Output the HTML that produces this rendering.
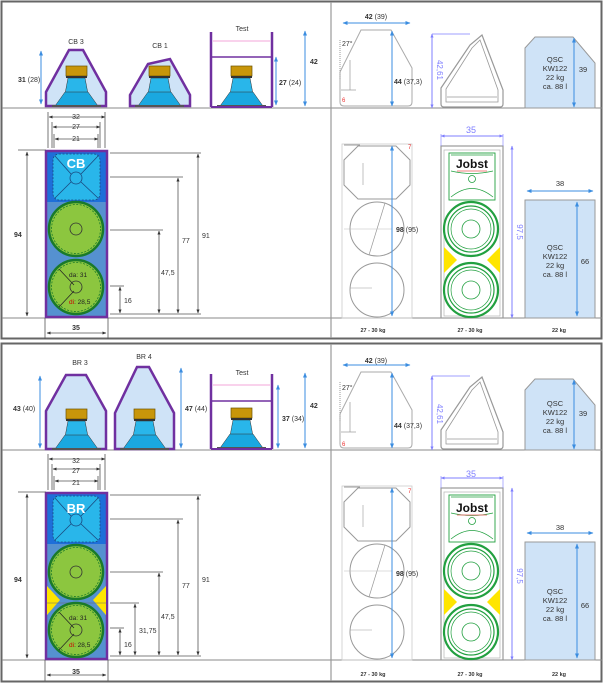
<!DOCTYPE html>
<html><head><meta charset="utf-8"><style>
html,body{margin:0;padding:0;background:#fff}
svg{display:block}
text{font-family:"Liberation Sans",sans-serif}
</style></head><body>
<svg width="604" height="684" viewBox="0 0 604 684" xmlns="http://www.w3.org/2000/svg">
<defs>
<marker id="a" viewBox="0 0 10 10" refX="9" refY="5" markerWidth="5" markerHeight="5" orient="auto-start-reverse"><path d="M0,1 L10,5 L0,9 z" fill="#333"/></marker>
<marker id="b" viewBox="0 0 10 10" refX="9" refY="5" markerWidth="5" markerHeight="5" orient="auto-start-reverse"><path d="M0,1 L10,5 L0,9 z" fill="#3b8de0"/></marker>
<marker id="p" viewBox="0 0 10 10" refX="9" refY="5" markerWidth="4" markerHeight="4" orient="auto-start-reverse"><path d="M0,1 L10,5 L0,9 z" fill="#7f7fff"/></marker>
<g id="drv">
<rect x="-10" y="0" width="21" height="10" fill="#c8960a" stroke="#6b5200" stroke-width="0.7"/>
<rect x="-10" y="10" width="21" height="2" fill="#333"/>
<path d="M-8,12 L9,12 L12,28 L-11,28 z" fill="#29b6ea" stroke="#333" stroke-width="0.5"/>
<path d="M-11,26 L12,26 L22,40 L-21,40 z" fill="#1aa8e0" stroke="#333" stroke-width="0.5"/>
<rect x="-24" y="39" width="49" height="2" fill="#555"/>
</g>
<g id="woof">
<circle r="27" fill="#8cc63f" stroke="#1a7a2a" stroke-width="2.5"/>
<circle r="24.5" fill="none" stroke="#1a7a2a" stroke-width="0.8" stroke-dasharray="2 1.5"/>
<circle r="6" fill="none" stroke="#333" stroke-width="0.8"/>
</g>
<g id="jw">
<circle r="27" fill="#fff" stroke="#22a040" stroke-width="2.2"/>
<circle r="23" fill="none" stroke="#22a040" stroke-width="1.2"/>
<circle r="20" fill="none" stroke="#22a040" stroke-width="0.7"/>
<circle r="9" fill="none" stroke="#22a040" stroke-width="0.8"/>
</g>
<g id="R">
<!-- top left outline -->
<path d="M361,30 L391,30 L412,68 L412,102 Q412,106 408,106 L344,106 Q340,106 340,102 L340,72 z" fill="none" stroke="#aaa" stroke-width="1"/>
<line x1="340" y1="40" x2="340" y2="80" stroke="#999" stroke-dasharray="1 1"/>
<line x1="341" y1="90" x2="356" y2="90" stroke="#999" stroke-width="0.7"/>
<line x1="350" y1="60" x2="350" y2="90" stroke="#999" stroke-width="0.7"/>
<line x1="343" y1="23" x2="410" y2="23" stroke="#3b8de0" marker-start="url(#b)" marker-end="url(#b)"/>
<line x1="392" y1="31" x2="392" y2="106" stroke="#3b8de0" marker-start="url(#b)" marker-end="url(#b)"/>
<!-- top middle -->
<path d="M441,88 L470,45 L482,35 L503,90 L503,104 Q503,107 500,107 L444,107 Q441,107 441,104 z" fill="none" stroke="#999" stroke-width="1.2"/>
<path d="M446,89 L472,48 L480,40 L498,90 L498,102 L446,102 z" fill="none" stroke="#999" stroke-width="0.8"/>
<line x1="447" y1="97" x2="497" y2="97" stroke="#999" stroke-width="0.8"/>
<line x1="432" y1="34" x2="432" y2="108" stroke="#7f7fff" marker-start="url(#p)" marker-end="url(#p)"/>
<line x1="432" y1="34" x2="470" y2="34" stroke="#7f7fff" stroke-width="0.7"/>
<!-- QSC top -->
<path d="M525,48 L535,37 L573,37 L595,63 L595,108 L525,108 z" fill="#cfe3f7" stroke="#999"/>
<line x1="574" y1="38" x2="574" y2="107" stroke="#3b8de0" marker-start="url(#b)" marker-end="url(#b)"/>
<!-- bottom left outline -->
<rect x="342" y="144" width="70" height="174" fill="none" stroke="#ccc" stroke-width="0.8"/>
<path d="M358,146 L396,146 L410,160 L410,185 L396,199 L358,199 L344,185 L344,160 z" fill="none" stroke="#999"/>
<line x1="344" y1="145" x2="360" y2="145" stroke="#999"/>
<line x1="363" y1="163" x2="363" y2="185" stroke="#999" stroke-width="0.6"/>
<circle cx="377" cy="229" r="27" fill="none" stroke="#999"/>
<circle cx="377" cy="290" r="27" fill="none" stroke="#999"/>
<line x1="385" y1="203" x2="369" y2="255" stroke="#999" stroke-width="0.7"/>
<line x1="344" y1="229" x2="392" y2="229" stroke="#bbb" stroke-width="0.5"/>
<line x1="350" y1="288" x2="372" y2="288" stroke="#999" stroke-width="0.6"/>
<line x1="392" y1="146" x2="392" y2="316" stroke="#3b8de0" marker-start="url(#b)" marker-end="url(#b)"/>
<!-- Jobst -->
<rect x="441" y="146" width="62" height="172" fill="#fff" stroke="#999" stroke-width="1.2"/>
<rect x="444" y="150" width="56" height="166" fill="none" stroke="#bbb" stroke-width="0.8"/>
<rect x="449" y="153" width="46" height="47" fill="none" stroke="#22a040" stroke-width="0.9"/>
<path d="M451,171 Q472,176 493,171 M451,197 Q472,180 493,197 M451,155 L493,155" fill="none" stroke="#22a040" stroke-width="0.8"/>
<circle cx="472" cy="179" r="3.5" fill="none" stroke="#22a040" stroke-width="0.8"/>
<path d="M444,247 L457,260 L444,273 z M500,247 L487,260 L500,273 z" fill="#ffe500"/>
<use href="#jw" x="471" y="229"/>
<use href="#jw" x="471" y="290"/>
<line x1="441" y1="136" x2="503" y2="136" stroke="#7f7fff" marker-start="url(#p)" marker-end="url(#p)"/>
<line x1="441" y1="134" x2="441" y2="146" stroke="#7f7fff" stroke-width="0.6"/>
<line x1="503" y1="134" x2="503" y2="146" stroke="#7f7fff" stroke-width="0.6"/>
<line x1="512" y1="146" x2="512" y2="318" stroke="#7f7fff" marker-start="url(#p)" marker-end="url(#p)"/>
<!-- QSC bottom -->
<rect x="525" y="200" width="70" height="118" fill="#cfe3f7" stroke="#999"/>
<line x1="527" y1="191" x2="593" y2="191" stroke="#3b8de0" marker-start="url(#b)" marker-end="url(#b)"/>
<line x1="577" y1="202" x2="577" y2="316" stroke="#3b8de0" marker-start="url(#b)" marker-end="url(#b)"/>
</g>
<g id="LB">
<!-- Test enclosure -->
<line x1="211" y1="32" x2="211" y2="107" stroke="#7030a0" stroke-width="2.5"/>
<line x1="272" y1="32" x2="272" y2="107" stroke="#7030a0" stroke-width="2.5"/>
<use href="#drv" x="241" y="66"/>
<line x1="211" y1="107" x2="272" y2="107" stroke="#7030a0" stroke-width="2"/>
<line x1="305" y1="31" x2="305" y2="106" stroke="#3b8de0" marker-start="url(#b)" marker-end="url(#b)"/>
<!-- front box -->
<rect x="46" y="151" width="61" height="166" fill="#5591d0"/>
<rect x="46" y="151" width="61" height="51" fill="#1e6fd9"/>
<rect x="53" y="154" width="47" height="46" rx="6" fill="#29b6ea" stroke="#1a4a80" stroke-width="0.8" stroke-dasharray="2 1.5"/>
<path d="M55,156 L71,174 M98,156 L81,174 M55,198 L71,182 M98,198 L81,182" stroke="#1a4a80" stroke-width="0.8"/>
<circle cx="76" cy="178" r="6" fill="#29b6ea" stroke="#1a4a80" stroke-width="0.8"/>
<rect x="46" y="151" width="61" height="166" fill="none" stroke="#7030a0" stroke-width="2.5"/>
<g stroke="#555" stroke-width="0.8" fill="none">
<line x1="49" y1="117" x2="105" y2="117" marker-start="url(#a)" marker-end="url(#a)"/>
<line x1="53" y1="127" x2="100" y2="127" marker-start="url(#a)" marker-end="url(#a)"/>
<line x1="55" y1="139" x2="98" y2="139" marker-start="url(#a)" marker-end="url(#a)"/>
<line x1="48" y1="112" x2="48" y2="148"/><line x1="105" y1="112" x2="105" y2="148"/>
<line x1="52" y1="122" x2="52" y2="148"/><line x1="100" y1="122" x2="100" y2="148"/>
<line x1="54" y1="134" x2="54" y2="148"/><line x1="98" y1="134" x2="98" y2="148"/>
<line x1="18" y1="150" x2="46" y2="150"/>
<line x1="27" y1="152" x2="27" y2="316" marker-start="url(#a)" marker-end="url(#a)"/>
<line x1="110" y1="153" x2="201" y2="153"/><line x1="198" y1="154" x2="198" y2="313" marker-start="url(#a)" marker-end="url(#a)"/>
<line x1="110" y1="177" x2="183" y2="177"/><line x1="178" y1="178" x2="178" y2="313" marker-start="url(#a)" marker-end="url(#a)"/>
<line x1="110" y1="230" x2="163" y2="230"/><line x1="159" y1="231" x2="159" y2="313" marker-start="url(#a)" marker-end="url(#a)"/>
<line x1="110" y1="286" x2="124" y2="286"/><line x1="120" y1="287" x2="120" y2="313" marker-start="url(#a)" marker-end="url(#a)"/>
<line x1="110" y1="314" x2="201" y2="314"/>
<line x1="45" y1="318" x2="45" y2="339"/><line x1="108" y1="318" x2="108" y2="339"/>
<line x1="47" y1="333" x2="106" y2="333" marker-start="url(#a)" marker-end="url(#a)"/>
</g>
</g>
</defs>

<!-- frames -->
<rect x="1.5" y="1.5" width="600" height="337" fill="none" stroke="#666" stroke-width="2"/>
<rect x="1.5" y="343.5" width="600" height="338" fill="none" stroke="#666" stroke-width="2"/>

<!-- ===== TOP PANEL ===== -->
<g>
<line x1="2" y1="108" x2="602" y2="108" stroke="#888"/>
<line x1="2" y1="318" x2="602" y2="318" stroke="#888"/>
<line x1="331" y1="2" x2="331" y2="338" stroke="#999" stroke-width="1.2"/>
<!-- CB3 -->
<path d="M46,92 L69,50 L83,50 L106,92 L106,106 L46,106 z" fill="#cfe3f7" stroke="#7030a0" stroke-width="2.5"/>
<use href="#drv" x="76" y="66"/>
<text x="76" y="44" font-size="7" text-anchor="middle" fill="#333">CB 3</text>
<line x1="41" y1="51" x2="41" y2="104" stroke="#3b8de0" marker-start="url(#b)" marker-end="url(#b)"/>
<text x="18" y="82" font-size="7" fill="#333"><tspan font-weight="bold">31</tspan> (28)</text>
<!-- CB1 -->
<path d="M130,95 L148,64 L170,59 L190,95 L190,106 L130,106 z" fill="#cfe3f7" stroke="#7030a0" stroke-width="2.5"/>
<use href="#drv" x="159" y="66"/>
<text x="160" y="48" font-size="7" text-anchor="middle" fill="#333">CB 1</text>
<!-- Test -->
<line x1="213" y1="41" x2="270" y2="41" stroke="#f5b8e0" stroke-width="1.2"/>
<line x1="211" y1="57" x2="272" y2="57" stroke="#7030a0" stroke-width="1.5"/>
<use href="#LB"/>
<text x="242" y="31" font-size="7" text-anchor="middle" fill="#333">Test</text>
<line x1="276" y1="57" x2="276" y2="105" stroke="#3b8de0" marker-start="url(#b)" marker-end="url(#b)"/>
<text x="279" y="85" font-size="7" fill="#333"><tspan font-weight="bold">27</tspan> (24)</text>
<text x="310" y="64" font-size="7" font-weight="bold" fill="#333">42</text>
<!-- front texts -->
<text x="76" y="168" font-size="13" font-weight="bold" text-anchor="middle" fill="#fff">CB</text>
<use href="#woof" x="76" y="229"/>
<use href="#woof" x="76" y="287"/>
<line x1="59" y1="269" x2="74" y2="285" stroke="#222" stroke-width="0.7"/>
<line x1="59" y1="307" x2="74" y2="291" stroke="#222" stroke-width="0.7"/>
<text x="69" y="277" font-size="6.5" fill="#222">da: 31</text>
<text x="69" y="304" font-size="6.5" fill="#222"><tspan fill="#c00">di</tspan>: 28,5</text>
<g font-size="7" fill="#333">
<text x="76" y="119" text-anchor="middle">32</text>
<text x="76" y="129" text-anchor="middle">27</text>
<text x="76" y="141" text-anchor="middle">21</text>
<text x="14" y="237" font-weight="bold">94</text>
<text x="202" y="238">91</text>
<text x="182" y="243">77</text>
<text x="161" y="275">47,5</text>
<text x="124" y="303">16</text>
<text x="76" y="330" text-anchor="middle" font-weight="bold">35</text>
</g>
<!-- right -->
<use href="#R"/>
<g font-size="7" fill="#333">
<text x="376" y="19" text-anchor="middle"><tspan font-weight="bold">42</tspan> (39)</text>
<text x="342" y="46">27°</text>
<text x="394" y="84"><tspan font-weight="bold">44</tspan> (37,3)</text>
<text x="342" y="102" fill="#e33" font-size="6">6</text>
<text transform="translate(437,70) rotate(90)" text-anchor="middle" fill="#7f7fff" font-size="8">42,61</text>
<text x="555" y="62" text-anchor="middle" font-size="7.5">QSC</text>
<text x="555" y="71" text-anchor="middle" font-size="7.5">KW122</text>
<text x="555" y="80" text-anchor="middle" font-size="7.5">22 kg</text>
<text x="555" y="89" text-anchor="middle" font-size="7.5">ca. 88 l</text>
<text x="583" y="72" text-anchor="middle" font-size="7.5">39</text>
<text x="408" y="149" fill="#e33" font-size="6">7</text>
<text x="396" y="232"><tspan font-weight="bold">98</tspan> (95)</text>
<text x="471" y="133" text-anchor="middle" fill="#7f7fff" font-size="9">35</text>
<text transform="translate(517,232) rotate(90)" text-anchor="middle" fill="#7f7fff" font-size="8">97,5</text>
<text x="472" y="168" text-anchor="middle" font-size="12" font-weight="bold" fill="#111">Jobst</text>
<line x1="457" y1="171" x2="487" y2="171" stroke="#e55" stroke-width="0.8"/>
<text x="560" y="186" text-anchor="middle" font-size="7.5">38</text>
<text x="555" y="250" text-anchor="middle" font-size="7.5">QSC</text>
<text x="555" y="259" text-anchor="middle" font-size="7.5">KW122</text>
<text x="555" y="268" text-anchor="middle" font-size="7.5">22 kg</text>
<text x="555" y="277" text-anchor="middle" font-size="7.5">ca. 88 l</text>
<text x="585" y="264" text-anchor="middle" font-size="7.5">66</text>
<text x="373" y="332" text-anchor="middle" font-size="5.5" font-weight="bold">27 - 30 kg</text>
<text x="470" y="332" text-anchor="middle" font-size="5.5" font-weight="bold">27 - 30 kg</text>
<text x="559" y="332" text-anchor="middle" font-size="5.5" font-weight="bold">22 kg</text>
</g>
</g>

<!-- ===== BOTTOM PANEL ===== -->
<g transform="translate(0,342)">
<line x1="2" y1="108" x2="602" y2="108" stroke="#888"/>
<line x1="2" y1="318" x2="602" y2="318" stroke="#888"/>
<line x1="331" y1="2" x2="331" y2="339" stroke="#999" stroke-width="1.2"/>
<!-- BR3 -->
<path d="M46,69 L66,33 L86,33 L106,69 L106,107 L46,107 z" fill="#cfe3f7" stroke="#7030a0" stroke-width="2.5"/>
<use href="#drv" x="76" y="67"/>
<text x="80" y="23" font-size="7" text-anchor="middle" fill="#333">BR 3</text>
<line x1="40" y1="34" x2="40" y2="106" stroke="#3b8de0" marker-start="url(#b)" marker-end="url(#b)"/>
<text x="13" y="69" font-size="7" fill="#333"><tspan font-weight="bold">43</tspan> (40)</text>
<!-- BR4 -->
<path d="M115,71 L137,25 L149,25 L174,71 L174,107 L115,107 z" fill="#cfe3f7" stroke="#7030a0" stroke-width="2.5"/>
<use href="#drv" x="144" y="67"/>
<text x="144" y="17" font-size="7" text-anchor="middle" fill="#333">BR 4</text>
<line x1="181" y1="26" x2="181" y2="106" stroke="#3b8de0" marker-start="url(#b)" marker-end="url(#b)"/>
<text x="185" y="69" font-size="7" fill="#333"><tspan font-weight="bold">47</tspan> (44)</text>
<!-- Test -->
<line x1="213" y1="43" x2="270" y2="43" stroke="#f5b8e0" stroke-width="1.2"/>
<line x1="211" y1="59" x2="272" y2="59" stroke="#7030a0" stroke-width="1.5"/>
<use href="#LB"/>
<text x="242" y="33" font-size="7" text-anchor="middle" fill="#333">Test</text>
<line x1="278" y1="43" x2="278" y2="106" stroke="#3b8de0" marker-start="url(#b)" marker-end="url(#b)"/>
<text x="282" y="79" font-size="7" fill="#333"><tspan font-weight="bold">37</tspan> (34)</text>
<text x="310" y="66" font-size="7" font-weight="bold" fill="#333">42</text>
<!-- front -->
<path d="M47,244 L60,258 L47,273 z M106,244 L93,258 L106,273 z" fill="#ffe500"/>
<line x1="47" y1="261" x2="106" y2="261" stroke="#666" stroke-width="0.5"/>
<text x="76" y="171" font-size="13" font-weight="bold" text-anchor="middle" fill="#fff">BR</text>
<use href="#woof" x="76" y="230"/>
<use href="#woof" x="76" y="288"/>
<line x1="59" y1="270" x2="74" y2="286" stroke="#222" stroke-width="0.7"/>
<line x1="59" y1="308" x2="74" y2="292" stroke="#222" stroke-width="0.7"/>
<text x="69" y="278" font-size="6.5" fill="#222">da: 31</text>
<text x="69" y="305" font-size="6.5" fill="#222"><tspan fill="#c00">di</tspan>: 28,5</text>
<g stroke="#555" stroke-width="0.8"><line x1="110" y1="261" x2="139" y2="261"/><line x1="135" y1="262" x2="135" y2="313" marker-start="url(#a)" marker-end="url(#a)"/></g>
<g font-size="7" fill="#333">
<text x="76" y="121" text-anchor="middle">32</text>
<text x="76" y="131" text-anchor="middle">27</text>
<text x="76" y="143" text-anchor="middle">21</text>
<text x="14" y="240" font-weight="bold">94</text>
<text x="202" y="240">91</text>
<text x="182" y="246">77</text>
<text x="161" y="277">47,5</text>
<text x="139" y="291">31,75</text>
<text x="124" y="305">16</text>
<text x="76" y="332" text-anchor="middle" font-weight="bold">35</text>
</g>
<use href="#R"/>
<g font-size="7" fill="#333">
<text x="376" y="21" text-anchor="middle"><tspan font-weight="bold">42</tspan> (39)</text>
<text x="342" y="48">27°</text>
<text x="394" y="86"><tspan font-weight="bold">44</tspan> (37,3)</text>
<text x="342" y="104" fill="#e33" font-size="6">6</text>
<text transform="translate(437,72) rotate(90)" text-anchor="middle" fill="#7f7fff" font-size="8">42,61</text>
<text x="555" y="64" text-anchor="middle" font-size="7.5">QSC</text>
<text x="555" y="73" text-anchor="middle" font-size="7.5">KW122</text>
<text x="555" y="82" text-anchor="middle" font-size="7.5">22 kg</text>
<text x="555" y="91" text-anchor="middle" font-size="7.5">ca. 88 l</text>
<text x="583" y="74" text-anchor="middle" font-size="7.5">39</text>
<text x="408" y="151" fill="#e33" font-size="6">7</text>
<text x="396" y="234"><tspan font-weight="bold">98</tspan> (95)</text>
<text x="471" y="135" text-anchor="middle" fill="#7f7fff" font-size="9">35</text>
<text transform="translate(517,234) rotate(90)" text-anchor="middle" fill="#7f7fff" font-size="8">97,5</text>
<text x="472" y="170" text-anchor="middle" font-size="12" font-weight="bold" fill="#111">Jobst</text>
<line x1="457" y1="173" x2="487" y2="173" stroke="#e55" stroke-width="0.8"/>
<text x="560" y="188" text-anchor="middle" font-size="7.5">38</text>
<text x="555" y="252" text-anchor="middle" font-size="7.5">QSC</text>
<text x="555" y="261" text-anchor="middle" font-size="7.5">KW122</text>
<text x="555" y="270" text-anchor="middle" font-size="7.5">22 kg</text>
<text x="555" y="279" text-anchor="middle" font-size="7.5">ca. 88 l</text>
<text x="585" y="266" text-anchor="middle" font-size="7.5">66</text>
<text x="373" y="334" text-anchor="middle" font-size="5.5" font-weight="bold">27 - 30 kg</text>
<text x="470" y="334" text-anchor="middle" font-size="5.5" font-weight="bold">27 - 30 kg</text>
<text x="559" y="334" text-anchor="middle" font-size="5.5" font-weight="bold">22 kg</text>
</g>
</g>
</svg>
</body></html>
